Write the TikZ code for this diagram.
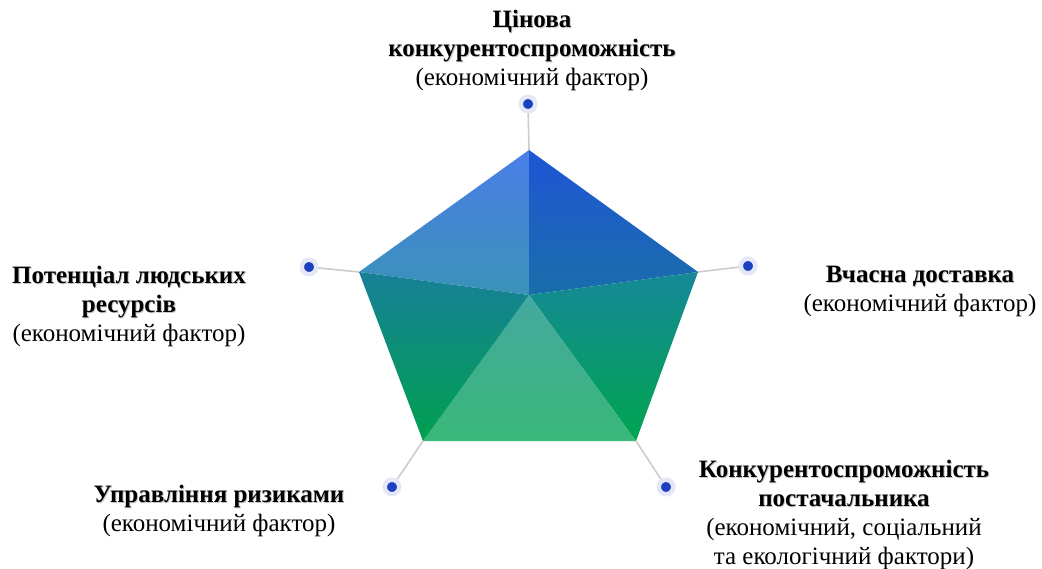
\documentclass[tikz,border=0pt]{standalone}
\usepackage{fontspec}
\setmainfont{Liberation Serif}

\definecolor{spokegray}{HTML}{CCCCCC}
\definecolor{dotblue}{HTML}{1E3FBF}
\definecolor{halo}{HTML}{E4E7F7}
\definecolor{tlTop}{HTML}{4A7EE8}
\definecolor{tlBot}{HTML}{3A92B8}
\definecolor{trTop}{HTML}{1E55D6}
\definecolor{trBot}{HTML}{1A6EAA}
\definecolor{rTop}{HTML}{168898}
\definecolor{rBot}{HTML}{00A54F}
\definecolor{bTop}{HTML}{45A8A0}
\definecolor{bBot}{HTML}{38B878}
\definecolor{lTop}{HTML}{178098}
\definecolor{lBot}{HTML}{00A04E}

% bold heading with a soft shadow
\newcommand{\hdr}[1]{\leavevmode\rlap{\kern1pt\raisebox{-1pt}{\color{black!22}\textbf{#1}}}\textbf{#1}}

\tikzset{
  spoke/.style={draw=spokegray,line width=1.6pt},
  marker/.style={circle,fill=dotblue,draw=halo,line width=4.5pt,inner sep=0pt,minimum size=14.5pt},
  factor/.style={align=center,inner sep=0pt,font=\fontsize{25}{29}\selectfont},
}

\begin{document}
\begin{tikzpicture}[x=1pt,y=-1pt]
  \useasboundingbox (0,0) rectangle (1042,569);

  % pentagon corners
  \coordinate (c) at (529,295);
  \coordinate (vtop) at (529,150);
  \coordinate (vright) at (698,272);
  \coordinate (vbr) at (636,441);
  \coordinate (vbl) at (423,441);
  \coordinate (vleft) at (359,272);

  % five shaded segments
  \path[top color=tlTop,bottom color=tlBot] (c) -- (vleft) -- (vtop) -- cycle;
  \path[top color=trTop,bottom color=trBot] (c) -- (vtop) -- (vright) -- cycle;
  \path[top color=rTop,bottom color=rBot] (c) -- (vright) -- (vbr) -- cycle;
  \path[top color=bTop,bottom color=bBot] (c) -- (vbr) -- (vbl) -- cycle;
  \path[top color=lTop,bottom color=lBot] (c) -- (vbl) -- (vleft) -- cycle;

  % markers
  \node[marker] (dtop) at (528,104) {};
  \node[marker] (dright) at (748,266) {};
  \node[marker] (dbr) at (666,487) {};
  \node[marker] (dbl) at (392,487) {};
  \node[marker] (dleft) at (309,267) {};

  \draw[spoke] (vtop) -- (dtop);
  \draw[spoke] (vright) -- (dright);
  \draw[spoke] (vbr) -- (dbr);
  \draw[spoke] (vbl) -- (dbl);
  \draw[spoke] (vleft) -- (dleft);

  % labels
  \node[factor] (ltop) at (532,50) {\hdr{Цінова}\\\hdr{конкурентоспроможність}\\(економічний фактор)};
  \node[factor] (lright) at (920,291) {\hdr{Вчасна доставка}\\(економічний фактор)};
  \node[factor] (lbr) at (844,515) {\hdr{Конкурентоспроможність}\\\hdr{постачальника}\\(економічний, соціальний\\та екологічний фактори)};
  \node[factor] (lbl) at (219,511) {\hdr{Управління ризиками}\\(економічний фактор)};
  \node[factor] (lleft) at (129,306) {\hdr{Потенціал людських}\\\hdr{ресурсів}\\(економічний фактор)};
\end{tikzpicture}
\end{document}
